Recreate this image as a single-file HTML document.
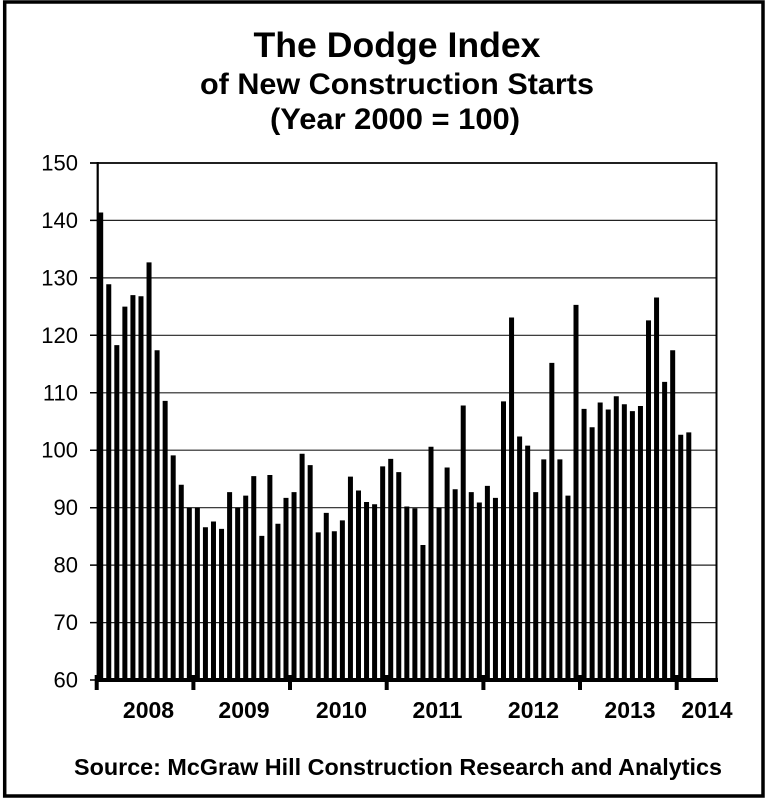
<!DOCTYPE html>
<html>
<head>
<meta charset="utf-8">
<style>
html,body{margin:0;padding:0;background:#fff;}
svg{display:block;}
text{font-family:"Liberation Sans", Arial, sans-serif;fill:#000;}
</style>
</head>
<body>
<svg width="767" height="800" viewBox="0 0 767 800" xmlns="http://www.w3.org/2000/svg">
<rect x="0" y="0" width="767" height="800" fill="#fff"/>
<rect x="4.7" y="2" width="758.3" height="794" fill="none" stroke="#000" stroke-width="3.5"/>
<text x="397" y="57" font-size="35" font-weight="bold" text-anchor="middle" textLength="287" lengthAdjust="spacingAndGlyphs">The Dodge Index</text>
<text x="397" y="94" font-size="30" font-weight="bold" text-anchor="middle" textLength="394" lengthAdjust="spacingAndGlyphs">of New Construction Starts</text>
<text x="395" y="129" font-size="30" font-weight="bold" text-anchor="middle" textLength="250" lengthAdjust="spacingAndGlyphs">(Year 2000 = 100)</text>
<path stroke="#222" stroke-width="1.2" fill="none" d="M97 220.4H717M97 277.9H717M97 335.3H717M97 392.8H717M97 450.2H717M97 507.7H717M97 565.1H717M97 622.6H717"/>
<line x1="90" y1="163" x2="717.5" y2="163" stroke="#000" stroke-width="1.8"/>
<line x1="716.5" y1="163" x2="716.5" y2="681" stroke="#000" stroke-width="2"/>
<path stroke="#000" stroke-width="1.5" fill="none" d="M90 220.4H97M90 277.9H97M90 335.3H97M90 392.8H97M90 450.2H97M90 507.7H97M90 565.1H97M90 622.6H97M90 680H97"/>
<path fill="#000" d="M98.2 212.44h5V680h-5Z M106.26 284.24h5V680h-5Z M114.31 345.12h5V680h-5Z M122.37 306.64h5V680h-5Z M130.42 295.15h5V680h-5Z M138.48 296.3h5V680h-5Z M146.54 262.41h5V680h-5Z M154.59 350.29h5V680h-5Z M162.65 400.84h5V680h-5Z M170.7 455.41h5V680h-5Z M178.76 484.7h5V680h-5Z M186.82 507.68h5V680h-5Z
M194.87 507.68h5V680h-5Z M202.93 527.21h5V680h-5Z M210.98 521.47h5V680h-5Z M219.04 528.93h5V680h-5Z M227.1 492.17h5V680h-5Z M235.15 507.68h5V680h-5Z M243.21 495.62h5V680h-5Z M251.26 476.09h5V680h-5Z M259.32 535.83h5V680h-5Z M267.38 474.94h5V680h-5Z M275.43 523.76h5V680h-5Z M283.49 497.92h5V680h-5Z
M291.54 492.17h5V680h-5Z M299.6 453.69h5V680h-5Z M307.66 465.17h5V680h-5Z M315.71 532.38h5V680h-5Z M323.77 512.85h5V680h-5Z M331.82 531.23h5V680h-5Z M339.88 520.32h5V680h-5Z M347.94 476.66h5V680h-5Z M355.99 490.45h5V680h-5Z M364.05 501.94h5V680h-5Z M372.1 504.23h5V680h-5Z M380.16 466.32h5V680h-5Z
M388.22 458.86h5V680h-5Z M396.27 472.07h5V680h-5Z M404.33 506.53h5V680h-5Z M412.38 508.25h5V680h-5Z M420.44 545.02h5V680h-5Z M428.5 446.79h5V680h-5Z M436.55 507.68h5V680h-5Z M444.61 467.47h5V680h-5Z M452.66 489.3h5V680h-5Z M460.72 405.44h5V680h-5Z M468.78 492.17h5V680h-5Z M476.83 502.51h5V680h-5Z
M484.89 485.85h5V680h-5Z M492.94 497.92h5V680h-5Z M501 401.42h5V680h-5Z M509.06 317.55h5V680h-5Z M517.11 436.45h5V680h-5Z M525.17 445.64h5V680h-5Z M533.22 492.17h5V680h-5Z M541.28 459.43h5V680h-5Z M549.34 362.93h5V680h-5Z M557.39 459.43h5V680h-5Z M565.45 495.62h5V680h-5Z M573.5 304.92h5V680h-5Z
M581.56 408.88h5V680h-5Z M589.62 427.26h5V680h-5Z M597.67 402.56h5V680h-5Z M605.73 409.46h5V680h-5Z M613.78 396.25h5V680h-5Z M621.84 404.29h5V680h-5Z M629.9 411.18h5V680h-5Z M637.95 406.01h5V680h-5Z M646.01 320.43h5V680h-5Z M654.06 297.45h5V680h-5Z M662.12 381.89h5V680h-5Z M670.18 350.29h5V680h-5Z
M678.23 434.73h5V680h-5Z M686.29 432.43h5V680h-5Z"/>
<line x1="97.7" y1="162" x2="97.7" y2="682" stroke="#000" stroke-width="2.2"/>
<line x1="96" y1="680" x2="718" y2="680" stroke="#000" stroke-width="4"/>
<path fill="#000" d="M94.7 675h4v15h-4Z M191.4 675h4v15h-4Z M288 675h4v15h-4Z M384.7 675h4v15h-4Z M481.4 675h4v15h-4Z M578 675h4v15h-4Z M674.7 675h4v15h-4Z"/>
<g font-size="22" text-anchor="end">
<text x="78" y="170.5">150</text>
<text x="78" y="227.9">140</text>
<text x="78" y="285.4">130</text>
<text x="78" y="342.8">120</text>
<text x="78" y="400.3">110</text>
<text x="78" y="457.7">100</text>
<text x="78" y="515.2">90</text>
<text x="78" y="572.6">80</text>
<text x="78" y="630.1">70</text>
<text x="78" y="687.5">60</text>
</g>
<g font-size="23" font-weight="bold" text-anchor="middle">
<text x="148.5" y="718">2008</text>
<text x="244" y="718">2009</text>
<text x="341.5" y="718">2010</text>
<text x="437.5" y="718">2011</text>
<text x="533.5" y="718">2012</text>
<text x="630" y="718">2013</text>
<text x="707" y="718">2014</text>
</g>
<text x="74" y="775" font-size="23" font-weight="bold" textLength="648" lengthAdjust="spacingAndGlyphs">Source:  McGraw Hill Construction Research and Analytics</text>
</svg>
</body>
</html>
